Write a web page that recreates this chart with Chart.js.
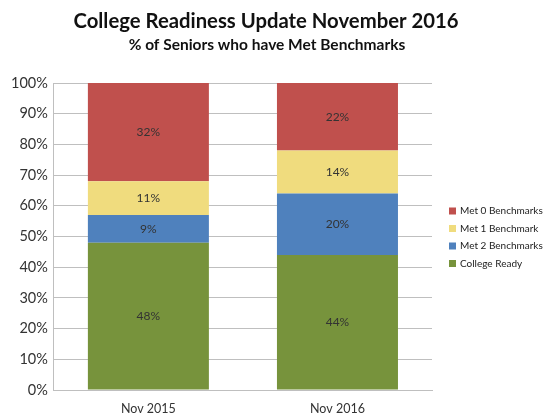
<!DOCTYPE html>
<html>
<head>
<meta charset="utf-8">
<script src="https://cdn.jsdelivr.net/npm/chart.js@4"></script>
<style>
  html, body { margin: 0; padding: 0; background: #fff; }
  #wrap { width: 546px; height: 417px; position: relative; }
</style>
</head>
<body>
<div id="wrap"><canvas id="chart"></canvas></div>
<script>
const categories = ["Nov 2015", "Nov 2016"];
const collegeReady = [48, 44];
const met2 = [9, 20];
const met1 = [11, 14];
const met0 = [32, 22];

const TITLE = "College Readiness Update November 2016";
const SUBTITLE = "% of Seniors who have Met Benchmarks";
const FONT = "Lato, 'Open Sans', sans-serif";

// draws the % value in the middle of each segment
const segmentLabels = {
  id: "segmentLabels",
  afterDatasetsDraw(chart) {
    const ctx = chart.ctx;
    ctx.save();
    ctx.font = "12px " + FONT;
    ctx.fillStyle = "#333";
    ctx.textAlign = "center";
    ctx.textBaseline = "middle";
    chart.data.datasets.forEach((ds, i) => {
      chart.getDatasetMeta(i).data.forEach((bar, j) => {
        const mid = (bar.y + bar.base) / 2;
        ctx.fillText(ds.data[j] + "%", bar.x, mid);
      });
    });
    ctx.restore();
  },
};

// title + legend drawn by hand so they can sit where the original has them
const decorations = {
  id: "decorations",
  afterDraw(chart) {
    const ctx = chart.ctx;
    ctx.save();
    ctx.fillStyle = "#111";
    ctx.textAlign = "center";
    ctx.textBaseline = "middle";
    ctx.font = "bold 20.3px " + FONT;
    ctx.fillText(TITLE, 266, 21);
    ctx.font = "bold 15.5px " + FONT;
    ctx.fillText(SUBTITLE, 267, 45);

    const x = chart.chartArea.right + 17;
    let y = 211;
    ctx.textAlign = "left";
    ctx.font = "10px " + FONT;
    chart.data.datasets.slice().reverse().forEach((ds) => {
      ctx.fillStyle = ds.backgroundColor;
      ctx.fillRect(x, y - 3.5, 7, 7);
      ctx.fillStyle = "#222";
      ctx.fillText(ds.label, x + 11, y);
      y += 17.5;
    });
    ctx.restore();
  },
};

new Chart(document.getElementById("chart"), {
  type: "bar",
  data: {
    labels: categories,
    datasets: [
      { label: "College Ready", data: collegeReady, backgroundColor: "#77933C" },
      { label: "Met 2 Benchmarks", data: met2, backgroundColor: "#4F81BD" },
      { label: "Met 1 Benchmark", data: met1, backgroundColor: "#F0DC7E" },
      { label: "Met 0 Benchmarks", data: met0, backgroundColor: "#C0504D" },
    ],
  },
  options: {
    responsive: true,
    maintainAspectRatio: false,
    animation: false,
    layout: { padding: { top: 83, left: 5, right: 114, bottom: -10 } },
    datasets: { bar: { categoryPercentage: 0.64, barPercentage: 1 } },
    plugins: {
      legend: { display: false },
      tooltip: { enabled: false },
    },
    scales: {
      x: {
        stacked: true,
        grid: { display: false, drawTicks: false },
        border: { color: "#BFBFBF" },
        ticks: { color: "#333", font: { family: FONT, size: 12.5 }, padding: 11 },
      },
      y: {
        stacked: true,
        min: 0,
        max: 100,
        ticks: {
          stepSize: 10,
          color: "#333",
          font: { family: FONT, size: 14.5 },
          padding: 6,
          callback: (v) => v + "%",
        },
        grid: { color: "#BFBFBF", drawTicks: false },
        border: { color: "#BFBFBF" },
      },
    },
  },
  plugins: [segmentLabels, decorations],
});
</script>
</body>
</html>
